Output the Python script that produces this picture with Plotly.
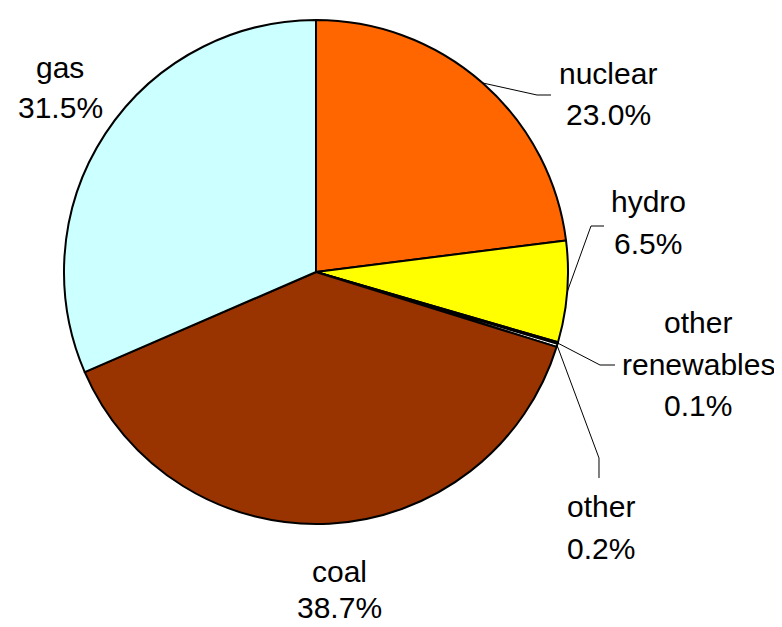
import math
import plotly.graph_objects as go

# ---- data ----
labels = ["nuclear", "hydro", "other renewables", "other", "coal", "gas"]
values = [23.0, 6.5, 0.1, 0.2, 38.7, 31.5]
pct_text = ["23.0%", "6.5%", "0.1%", "0.2%", "38.7%", "31.5%"]
colors = ["#FF6600", "#FFFF00", "#FFFFFF", "#FFFFFF", "#993300", "#CCFFFF"]

W, H = 782, 627
OFF = 8  # page body margin
CX, CY, R = 316, 272, 252

def px(x):
    return (x - OFF) / W

def py(y):
    return 1 - (y - OFF) / H

fig = go.Figure(go.Pie(
    labels=labels, values=values, sort=False, direction="clockwise", rotation=0,
    marker=dict(colors=colors, line=dict(color="black", width=2)),
    textinfo="none", hoverinfo="label+percent", showlegend=False,
    domain=dict(x=[px(CX - R), px(CX + R)], y=[py(CY + R), py(CY - R)]),
))

# label text lines and their centres (layout positions)
label_lines = {
    "nuclear": (["nuclear"], 608, 73, 42),
    "hydro": (["hydro"], 648, 201, 42),
    "other renewables": (["other", "renewables"], 698, 322, 42),
    "other": (["other"], 601, 506, 42),
    "coal": (["coal"], 339, 571, 36),
    "gas": (["gas"], 60, 67, 40),
}
font = dict(family="Liberation Sans, Arial, sans-serif", size=30, color="black")
annotations = []
for lab, pt in zip(labels, pct_text):
    lines, x, y0, step = label_lines[lab]
    for i, t in enumerate(lines + [pt]):
        annotations.append(dict(
            x=px(x), y=py(y0 + i * step), xref="paper", yref="paper",
            text=t, showarrow=False, xanchor="center", yanchor="middle",
            borderpad=0, font=font))

# leader line elbows (layout positions)
elbows = {
    "nuclear": [(537, 95), (551, 95)],
    "hydro": [(591, 226), (604, 226)],
    "other renewables": [(600, 365), (615, 365)],
    "other": [(599, 458), (599, 478)],
}
shapes = []
total = sum(values)
cum = 0.0
for lab, v in zip(labels, values):
    mid = (cum + v / 2) / total * 2 * math.pi
    cum += v
    if lab not in elbows:
        continue
    ex, ey = CX + R * math.sin(mid), CY - R * math.cos(mid)
    pts = [(ex, ey)] + elbows[lab]
    path = "M " + " L ".join(f"{px(a):.5f},{py(b):.5f}" for a, b in pts)
    shapes.append(dict(type="path", path=path, xref="paper", yref="paper",
                       line=dict(color="black", width=1)))

fig.update_layout(
    width=W, height=H, margin=dict(l=0, r=0, t=0, b=0),
    paper_bgcolor="white", plot_bgcolor="white",
    annotations=annotations, shapes=shapes,
)
fig.write_html("out.html")
